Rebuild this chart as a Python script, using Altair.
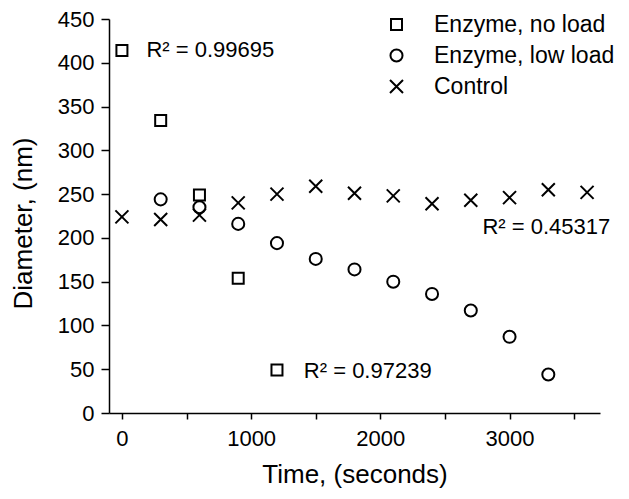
import altair as alt
import pandas as pd

series_names = ["Enzyme, no load", "Enzyme, low load", "Control"]

time_no_load = [0, 300, 600, 900, 1200]
diam_no_load = [414, 334, 249, 154, 49]

time_low_load = [300, 600, 900, 1200, 1500, 1800, 2100, 2400, 2700, 3000, 3300]
diam_low_load = [244, 235, 216, 194, 176, 164, 150, 136, 117, 87, 44]

time_control = [0, 300, 600, 900, 1200, 1500, 1800, 2100, 2400, 2700, 3000, 3300, 3600]
diam_control = [224, 221, 226, 240, 250, 259, 251, 248, 239, 243, 246, 255, 252]

ann_x = [190, 2790, 1408]
ann_y = [407, 204, 40]
ann_text = ["R² = 0.99695", "R² = 0.45317", "R² = 0.97239"]

x_ticks = list(range(0, 3700, 500))
y_ticks = list(range(0, 451, 25))

rows = []
for t, d in zip(time_no_load, diam_no_load):
    rows.append({"time": t, "diam": d, "series": series_names[0]})
for t, d in zip(time_low_load, diam_low_load):
    rows.append({"time": t, "diam": d, "series": series_names[1]})
for t, d in zip(time_control, diam_control):
    rows.append({"time": t, "diam": d, "series": series_names[2]})
df = pd.DataFrame(rows)
ann = pd.DataFrame({"x": ann_x, "y": ann_y, "text": ann_text})

FONT = "Liberation Sans"

x_scale = alt.Scale(domain=[-100, 3700], nice=False, zero=False)
y_scale = alt.Scale(domain=[0, 450], nice=False)

legend = alt.Legend(
    title=None, orient="none", legendX=276, legendY=-6,
    labelFontSize=23, labelFont=FONT, labelColor="black", labelLimit=400,
    labelOffset=26, rowPadding=7, padding=0,
    symbolStrokeWidth=2, symbolStrokeColor="black", symbolFillColor="transparent",
)

points = alt.Chart(df).mark_point(
    filled=False, strokeWidth=2, color="black", opacity=1
).encode(
    x=alt.X("time:Q", scale=x_scale, axis=alt.Axis(
        values=x_ticks, title="Time, (seconds)", format="d",
        labelExpr="datum.value % 1000 == 0 ? datum.label : ''",
        tickSize=6, labelPadding=9,
        titleBaseline="alphabetic", titleY=69,
    )),
    y=alt.Y("diam:Q", scale=y_scale, axis=alt.Axis(
        values=y_ticks, title="Diameter, (nm)", format="d",
        labelExpr="datum.value % 50 == 0 ? datum.label : ''",
        tickSize={"condition": {"test": "datum.value % 50 == 0", "value": 8}, "value": 5},
        labelPadding=7,
        titleAngle=270, titleBaseline="alphabetic", titleAlign="center",
        titleX=-78, titleY=204,
    )),
    shape=alt.Shape("series:N", scale=alt.Scale(
        domain=series_names,
        range=["square", "circle", "M-1,-1L1,1M-1,1L1,-1"]), legend=legend),
    size=alt.Size("series:N", scale=alt.Scale(
        domain=series_names, range=[121, 169, 196]), legend=legend),
)

texts = alt.Chart(ann).mark_text(
    align="left", baseline="alphabetic", fontSize=22, font=FONT, color="black"
).encode(
    x=alt.X("x:Q", scale=x_scale),
    y=alt.Y("y:Q", scale=y_scale),
    text="text:N",
)

chart = alt.layer(points, texts).properties(
    width=491, height=394,
    autosize=alt.AutoSizeParams(type="none"),
    padding={"left": 101, "top": 11, "right": 20, "bottom": 80},
).configure_axis(
    grid=False, domainColor="black", tickColor="black", labelColor="black",
    titleColor="black", labelFont=FONT, titleFont=FONT, labelFontSize=22,
    titleFontSize=26, titleFontWeight="normal", domainWidth=1.5, tickWidth=1.5,
).configure_view(stroke=None)

chart.save("out.html", embed_options={"renderer": "svg", "actions": False})
